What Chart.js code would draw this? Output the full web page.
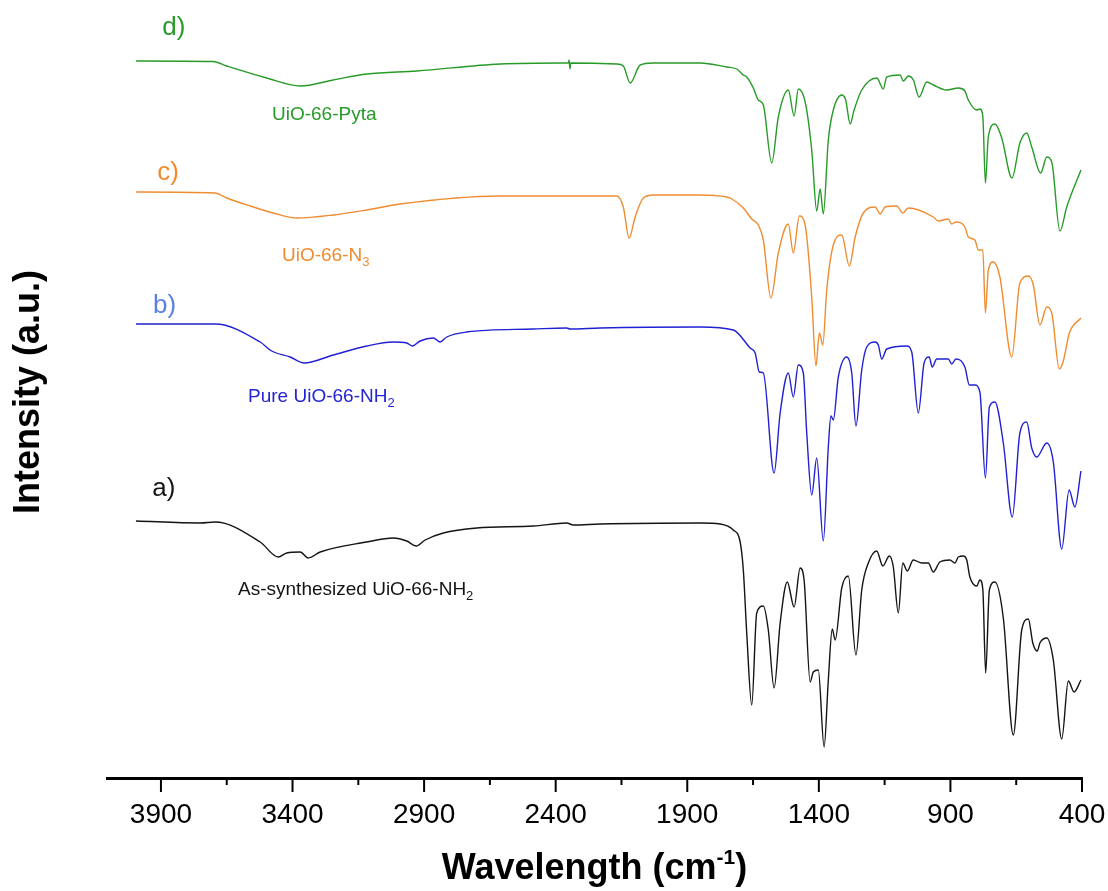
<!DOCTYPE html>
<html>
<head>
<meta charset="utf-8">
<script src="https://cdn.jsdelivr.net/npm/chart.js@4.4.0/dist/chart.umd.min.js"></script>
<style>
  html, body { margin: 0; padding: 0; background: #fff; }
</style>
</head>
<body>
<canvas id="myChart" width="1108" height="891"></canvas>
<script>
// FTIR spectra, stacked; x in cm-1, y in arbitrary units
var pyta = [[3995,7.17],[3702,7.165],[3650,7.12],[3498,7.00],[3371,6.92],[3246,6.98],[3118,7.04],[2928,7.07],[2611,7.14],[2372,7.15],
  [2352,7.15],[2349,7.18],[2346,7.09],[2343,7.15],[2168,7.14],[2143,7.12],[2117,6.95],[2079,7.13],[2030,7.15],[1851,7.15],
  [1750,7.11],[1712,7.09],[1687,7.03],[1674,7.01],[1649,6.90],[1630,6.78],[1611,6.73],[1579,6.15],[1554,6.61],[1516,6.88],
  [1494,6.62],[1478,6.89],[1452,6.76],[1427,6.28],[1408,5.67],[1395,5.89],[1383,5.64],[1364,6.38],[1345,6.68],[1313,6.83],
  [1298,6.78],[1281,6.54],[1266,6.68],[1237,6.88],[1180,7.00],[1155,6.89],[1142,7.01],[1091,7.03],[1079,6.97],[1060,7.02],
  [1041,6.98],[1019,6.81],[990,6.96],[965,6.93],[914,6.88],[870,6.90],[845,6.87],[832,6.78],[800,6.68],[788,6.69],
  [777,6.62],[767,5.95],[756,6.41],[731,6.54],[705,6.40],[666,6.00],[636,6.35],[610,6.45],[591,6.31],[557,6.05],
  [534,6.21],[515,6.16],[484,5.47],[458,5.71],[404,6.08]];

var azide = [[3995,5.86],[3694,5.85],[3650,5.80],[3561,5.72],[3473,5.65],[3384,5.60],[3245,5.63],[3118,5.68],[2991,5.74],[2611,5.82],
  [2358,5.82],[2168,5.82],[2143,5.71],[2121,5.40],[2098,5.61],[2067,5.80],[2029,5.83],[1851,5.83],[1750,5.81],[1737,5.80],
  [1687,5.70],[1655,5.59],[1630,5.53],[1611,5.38],[1582,4.80],[1554,5.25],[1516,5.54],[1497,5.25],[1474,5.62],[1452,5.53],
  [1427,4.81],[1411,4.12],[1398,4.45],[1385,4.33],[1370,4.88],[1345,5.33],[1313,5.43],[1284,5.12],[1262,5.41],[1231,5.65],
  [1186,5.71],[1167,5.64],[1148,5.71],[1104,5.72],[1081,5.65],[1060,5.70],[965,5.61],[946,5.57],[908,5.59],[895,5.54],
  [879,5.56],[845,5.51],[832,5.41],[807,5.38],[794,5.28],[777,5.28],[767,4.65],[756,5.08],[737,5.16],[712,5.01],
  [667,4.21],[636,4.95],[604,5.02],[585,4.93],[560,4.53],[534,4.71],[515,4.65],[486,4.09],[471,4.17],[448,4.45],[404,4.60]];

var pure = [[3995,4.54],[3694,4.54],[3523,4.36],[3479,4.27],[3409,4.21],[3356,4.15],[3245,4.23],[3118,4.32],[3017,4.36],[2966,4.35],
  [2944,4.32],[2915,4.37],[2865,4.40],[2839,4.36],[2814,4.41],[2738,4.46],[2485,4.49],[2358,4.50],[2345,4.49],[2231,4.50],
  [1851,4.51],[1725,4.48],[1661,4.30],[1642,4.25],[1626,4.06],[1611,4.05],[1570,3.05],[1547,3.65],[1516,4.05],[1497,3.81],
  [1478,4.13],[1459,4.05],[1446,3.45],[1427,2.83],[1408,3.20],[1383,2.37],[1364,3.31],[1354,3.62],[1345,3.58],[1326,4.01],
  [1294,4.21],[1275,4.05],[1259,3.52],[1237,4.08],[1218,4.31],[1186,4.36],[1174,4.33],[1161,4.19],[1142,4.29],[1066,4.32],
  [1047,4.26],[1022,3.65],[1000,4.15],[981,4.21],[969,4.11],[952,4.19],[908,4.19],[895,4.14],[879,4.19],[845,4.11],
  [828,3.93],[807,3.93],[788,3.86],[767,3.00],[752,3.71],[731,3.76],[699,3.35],[665,2.61],[636,3.45],[610,3.56],
  [591,3.30],[572,3.21],[534,3.35],[509,3.16],[477,2.29],[449,2.88],[427,2.71],[404,3.07]];

var asSynth = [[3995,2.57],[3751,2.55],[3694,2.56],[3523,2.36],[3454,2.21],[3422,2.25],[3371,2.26],[3340,2.20],[3295,2.26],[3118,2.36],
  [3017,2.40],[2966,2.37],[2930,2.32],[2896,2.38],[2827,2.45],[2700,2.50],[2485,2.52],[2358,2.55],[2333,2.53],[2231,2.54],
  [1851,2.55],[1775,2.54],[1725,2.48],[1699,2.36],[1687,2.08],[1674,1.45],[1655,0.73],[1636,1.65],[1611,1.72],[1592,1.48],
  [1570,0.90],[1547,1.55],[1520,1.96],[1494,1.71],[1471,2.10],[1456,1.98],[1433,0.96],[1421,1.06],[1402,1.08],[1380,0.31],
  [1364,0.98],[1349,1.49],[1338,1.38],[1313,1.90],[1288,2.02],[1259,1.23],[1237,1.88],[1212,2.15],[1180,2.27],[1157,2.12],
  [1132,2.22],[1117,2.11],[1098,1.65],[1081,2.15],[1064,2.07],[1041,2.18],[1009,2.15],[984,2.15],[965,2.06],[940,2.16],
  [902,2.18],[883,2.15],[870,2.21],[851,2.22],[838,2.18],[826,2.01],[800,1.92],[788,1.98],[777,1.89],[766,1.05],
  [752,1.88],[731,1.96],[699,1.60],[661,0.43],[629,1.48],[604,1.59],[587,1.35],[570,1.27],[560,1.35],[534,1.40],
  [509,1.18],[477,0.39],[452,0.97],[430,0.86],[404,0.98]];

var majorTicks = [3900, 3400, 2900, 2400, 1900, 1400, 900, 400];
var minorTicks = [3650, 3150, 2650, 2150, 1650, 1150, 650];

// sample tags and names (name, subscript)
var tagText = ['a)', 'b)', 'c)', 'd)'];
var nameText = [['As-synthesized UiO-66-NH', '2'], ['Pure UiO-66-NH', '2'], ['UiO-66-N', '3'], ['UiO-66-Pyta', '']];
var tagPos = [[3933, 2.82], [3930, 4.65], [3914, 5.98], [3895, 7.43]];
var namePos = [[3607, 1.83], [3569, 3.76], [3440, 5.175], [3478, 6.58]];

var lineColor = ['#141414', '#2020d4', '#ef8c30', '#279b27'];
var tagColor = ['#141414', '#5b7fe6', '#ef8c30', '#279b27'];
var nameColor = ['#141414', '#2424d6', '#ef8c30', '#279b27'];

var FONT = "'Liberation Sans', Arial, sans-serif";

function pts(arr) {
  return arr.map(function (p) { return { x: p[0], y: p[1] }; });
}

var spectra = [asSynth, pure, azide, pyta];

var tickMarks = {
  id: 'tickMarks',
  afterDraw: function (chart) {
    var xs = chart.scales.x, c = chart.ctx, y0 = chart.chartArea.bottom;
    c.save();
    c.strokeStyle = '#000';
    c.lineWidth = 2;
    majorTicks.forEach(function (v) {
      var px = xs.getPixelForValue(v);
      c.beginPath(); c.moveTo(px, y0); c.lineTo(px, y0 + 14); c.stroke();
    });
    minorTicks.forEach(function (v) {
      var px = xs.getPixelForValue(v);
      c.beginPath(); c.moveTo(px, y0); c.lineTo(px, y0 + 7); c.stroke();
    });
    c.restore();
  }
};

var labels = {
  id: 'labels',
  afterDraw: function (chart) {
    var xs = chart.scales.x, ys = chart.scales.y, c = chart.ctx;
    c.save();
    c.textBaseline = 'alphabetic';
    c.textAlign = 'left';
    for (var i = 0; i < 4; i++) {
      c.fillStyle = tagColor[i];
      c.font = '26px ' + FONT;
      c.fillText(tagText[i], xs.getPixelForValue(tagPos[i][0]), ys.getPixelForValue(tagPos[i][1]));
      var nx = xs.getPixelForValue(namePos[i][0]), ny = ys.getPixelForValue(namePos[i][1]);
      c.fillStyle = nameColor[i];
      c.font = '19px ' + FONT;
      c.fillText(nameText[i][0], nx, ny);
      if (nameText[i][1]) {
        var w = c.measureText(nameText[i][0]).width;
        c.font = '13px ' + FONT;
        c.fillText(nameText[i][1], nx + w, ny + 5);
      }
    }
    // x axis title with superscript
    var cx = (chart.chartArea.left + chart.chartArea.right) / 2;
    var by = 879;
    c.fillStyle = '#000';
    c.font = 'bold 36px ' + FONT;
    var a = 'Wavelength (cm', b = '-1', d = ')';
    var wa = c.measureText(a).width, wd = c.measureText(d).width;
    c.font = 'bold 21px ' + FONT;
    var wb = c.measureText(b).width;
    var x0 = cx - (wa + wb + wd) / 2;
    c.font = 'bold 36px ' + FONT;
    c.fillText(a, x0, by);
    c.fillText(d, x0 + wa + wb, by);
    c.font = 'bold 21px ' + FONT;
    c.fillText(b, x0 + wa, by - 15);
    c.restore();
  }
};

var ctx = document.getElementById('myChart').getContext('2d');
var myChart = new Chart(ctx, {
  type: 'line',
  data: {
    datasets: spectra.map(function (s, i) {
      return {
        data: pts(s),
        borderColor: lineColor[i],
        borderWidth: 1.4,
        pointRadius: 0,
        fill: false,
        cubicInterpolationMode: 'monotone'
      };
    })
  },
  options: {
    responsive: false,
    animation: false,
    layout: { padding: { left: 7, top: 6, right: 26, bottom: 0 } },
    plugins: { legend: { display: false }, tooltip: { enabled: false } },
    scales: {
      x: {
        type: 'linear',
        reverse: true,
        min: 400,
        max: 4105,
        afterBuildTicks: function (scale) {
          scale.ticks = majorTicks.map(function (v) { return { value: v }; });
        },
        afterFit: function (scale) {
          scale.height = 113;
          scale.paddingLeft = 0;
          scale.paddingRight = 0;
        },
        ticks: {
          autoSkip: false,
          maxRotation: 0,
          padding: 6,
          color: '#000',
          font: { family: FONT, size: 28 },
          callback: function (v) { return String(v); }
        },
        grid: { display: true, drawOnChartArea: false, drawTicks: true, tickLength: 14, color: 'rgba(0,0,0,0)' },
        border: { display: true, color: '#000', width: 3 }
      },
      y: {
        min: 0,
        max: 7.72,
        afterFit: function (scale) { scale.width = 100; },
        ticks: { display: false },
        grid: { display: false },
        border: { display: false },
        title: {
          display: true,
          text: 'Intensity (a.u.)',
          color: '#000',
          font: { family: FONT, size: 36, weight: 'bold' },
          padding: { top: 0, bottom: 0 }
        }
      }
    }
  },
  plugins: [tickMarks, labels]
});
</script>
</body>
</html>
